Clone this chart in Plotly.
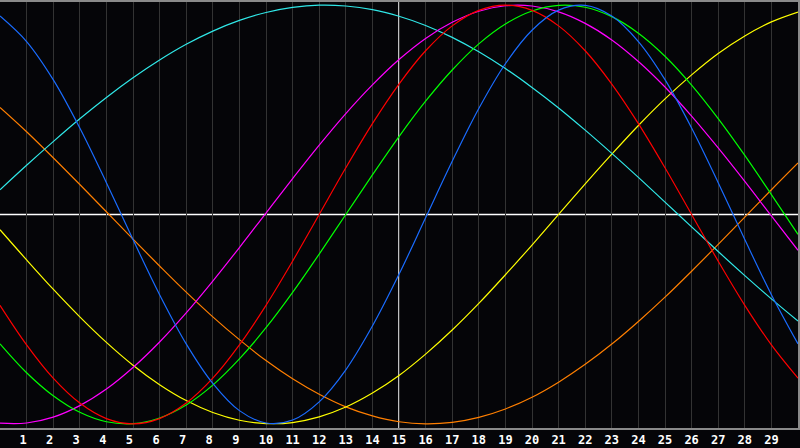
"""Biorhythm style chart: seven cycles over a 30 day window."""

import plotly.graph_objects as go

# day index, 0..30 (one point per day, drawn as smooth splines)
days = list(range(31))
today = 15

red_vals = [
    -0.434, -0.623, -0.782, -0.901, -0.975, -1.0, -0.975, -0.901, -0.782, -0.623,
    -0.434, -0.223, 0.0, 0.223, 0.434, 0.623, 0.782, 0.901, 0.975, 1.0,
    0.975, 0.901, 0.782, 0.623, 0.434, 0.223, 0.0, -0.223, -0.434, -0.623, -0.782,
]
green_vals = [
    -0.618, -0.756, -0.866, -0.945, -0.990, -0.999, -0.972, -0.910, -0.815, -0.690,
    -0.541, -0.372, -0.189, 0.0, 0.189, 0.372, 0.541, 0.690, 0.815, 0.910,
    0.972, 0.999, 0.990, 0.945, 0.866, 0.756, 0.618, 0.458, 0.282, 0.095, -0.095,
]
blue_vals = [
    0.948, 0.826, 0.644, 0.413, 0.152, -0.120, -0.383, -0.618, -0.807, -0.937,
    -0.996, -0.982, -0.895, -0.742, -0.533, -0.286, -0.016, 0.254, 0.506, 0.720,
    0.880, 0.976, 0.999, 0.948, 0.826, 0.644, 0.413, 0.152, -0.120, -0.383, -0.618,
]
cyan_vals = [
    0.118, 0.235, 0.348, 0.457, 0.559, 0.653, 0.738, 0.813, 0.876, 0.927,
    0.965, 0.989, 1.0, 0.996, 0.979, 0.947, 0.903, 0.846, 0.777, 0.697,
    0.607, 0.509, 0.403, 0.292, 0.177, 0.059, -0.059, -0.177, -0.292, -0.403, -0.509,
]
magenta_vals = [
    -0.997, -0.996, -0.968, -0.913, -0.834, -0.731, -0.609, -0.470, -0.318, -0.158,
    0.007, 0.171, 0.331, 0.482, 0.619, 0.740, 0.841, 0.918, 0.971, 0.997,
    0.996, 0.968, 0.913, 0.834, 0.731, 0.609, 0.470, 0.318, 0.158, -0.007, -0.171,
]
yellow_vals = [
    -0.073, -0.217, -0.357, -0.489, -0.611, -0.720, -0.813, -0.889, -0.946, -0.983,
    -0.999, -0.994, -0.967, -0.920, -0.853, -0.769, -0.667, -0.552, -0.425, -0.288,
    -0.146, 0.0, 0.146, 0.288, 0.425, 0.552, 0.667, 0.769, 0.853, 0.920, 0.967,
]
orange_vals = [
    0.511, 0.395, 0.271, 0.143, 0.013, -0.118, -0.246, -0.371, -0.489, -0.598,
    -0.698, -0.785, -0.859, -0.919, -0.962, -0.990, -1.0, -0.993, -0.969, -0.929,
    -0.873, -0.801, -0.716, -0.619, -0.511, -0.395, -0.271, -0.143, -0.013, 0.118, 0.246,
]

# tick labels 1..29 (single digits padded so they sit a bit left, like the original)
tick_days = list(range(1, 30))
tick_labels = [f"{d}\u00a0" if d < 10 else str(d) for d in tick_days]

series = [
    ("orange", orange_vals, "#ff7f00"),
    ("yellow", yellow_vals, "#ffff00"),
    ("cyan", cyan_vals, "#30e8e8"),
    ("magenta", magenta_vals, "#ff00ff"),
    ("green", green_vals, "#00ff00"),
    ("red", red_vals, "#ff0000"),
    ("blue", blue_vals, "#1a6cff"),
]

fig = go.Figure()
for name, vals, color in series:
    fig.add_trace(
        go.Scatter(
            x=days,
            y=vals,
            mode="lines",
            name=name,
            line={"color": color, "width": 1.2, "shape": "spline"},
            hoverinfo="skip",
        )
    )

# zero line and today marker
fig.add_hline(y=0, line_color="white", line_width=1.5, layer="below")
fig.add_vline(x=today, line_color="white", line_width=1.5, layer="below")

fig.update_layout(
    width=800,
    height=448,
    margin={"l": 0, "r": 0, "t": 0, "b": 20},
    paper_bgcolor="#050508",
    plot_bgcolor="#050508",
    showlegend=False,
    xaxis={
        "range": [0, 30],
        "tickmode": "array",
        "tickvals": tick_days,
        "ticktext": tick_labels,
        "showgrid": True,
        "gridcolor": "#333333",
        "gridwidth": 1,
        "zeroline": False,
        "showline": True,
        "linecolor": "#8a8a8a",
        "linewidth": 1.5,
        "mirror": True,
        "ticks": "",
        "tickfont": {
            "family": "DejaVu Sans Mono",
            "size": 12,
            "color": "white",
            "weight": "bold",
        },
        "fixedrange": True,
    },
    yaxis={
        "range": [-1.02, 1.015],
        "showgrid": False,
        "zeroline": False,
        "showticklabels": False,
        "showline": True,
        "linecolor": "#8a8a8a",
        "linewidth": 1.5,
        "mirror": True,
        "ticks": "",
        "fixedrange": True,
    },
)

# the page body has a default 8px margin; drop it so the chart fills the window
fig.write_html(
    "out.html",
    config={"displayModeBar": False},
    post_script="document.body.style.margin = '0';",
)
